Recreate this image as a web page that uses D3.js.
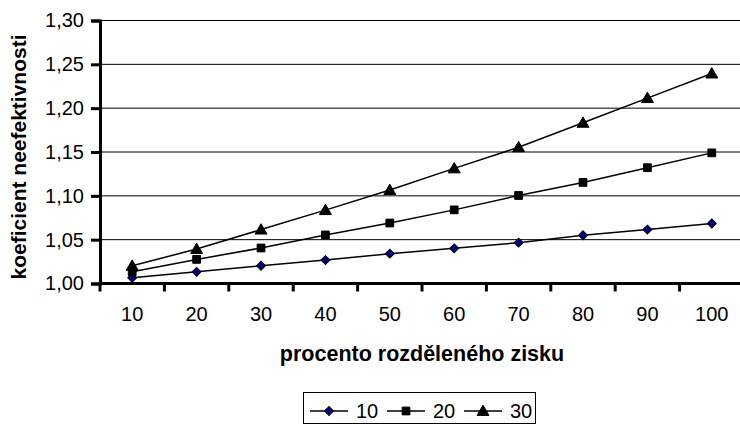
<!DOCTYPE html>
<html>
<head>
<meta charset="utf-8">
<script src="https://cdn.jsdelivr.net/npm/d3@7"></script>
<style>
  html, body { margin: 0; padding: 0; background: #fff; }
  svg { display: block; }
  text { font-family: "Liberation Sans", Arial, sans-serif; fill: #000; }
</style>
</head>
<body>
<svg id="chart" width="740" height="424"></svg>
<script>
const categories = ["10", "20", "30", "40", "50", "60", "70", "80", "90", "100"];
const series10 = [1.0066, 1.0133, 1.0202, 1.0267, 1.0340, 1.0401, 1.0466, 1.0550, 1.0615, 1.0684];
const series20 = [1.0135, 1.0275, 1.0405, 1.0554, 1.0690, 1.0840, 1.1004, 1.1153, 1.1321, 1.1490];
const series30 = [1.0202, 1.0393, 1.0615, 1.0837, 1.1066, 1.1313, 1.1554, 1.1833, 1.2115, 1.2395];
const seriesNames = ["10", "20", "30"];
const yTicks = [1.00, 1.05, 1.10, 1.15, 1.20, 1.25, 1.30];
const xTitle = "procento rozděleného zisku";
const yTitle = "koeficient neefektivnosti";

const svg = d3.select("#chart");
const pLeft = 100, pRight = 744, pTop = 20.5, pBottom = 283.5;

const x = d3.scaleBand().domain(categories).range([pLeft, pRight]).padding(0);
const y = d3.scaleLinear().domain([1.0, 1.3]).range([pBottom, pTop]);
const fmt = v => d3.format(".2f")(v).replace(".", ",");

// gridlines
svg.append("g").selectAll("line").data(yTicks.filter(t => t > 1.0)).join("line")
  .attr("x1", pLeft).attr("x2", pRight)
  .attr("y1", d => y(d)).attr("y2", d => y(d))
  .attr("stroke", "#000").attr("stroke-width", 1);

// y axis
const yAxis = d3.axisLeft(y).tickValues(yTicks).tickFormat(fmt).tickSize(9).tickPadding(7);
const gy = svg.append("g").attr("transform", `translate(${pLeft},0)`).call(yAxis);
gy.select(".domain").attr("stroke", "#000").attr("stroke-width", 3);
gy.selectAll(".tick line").attr("stroke", "#000").attr("stroke-width", 3);
gy.selectAll(".tick text").attr("font-size", "20px")
  .attr("font-family", "Liberation Sans, Arial, sans-serif").attr("fill", "#000");

// x axis (ticks at category boundaries)
const boundaries = d3.range(categories.length + 1).map(i => pLeft + i * x.bandwidth());
svg.append("line").attr("x1", pLeft - 1.5).attr("x2", pRight).attr("y1", pBottom).attr("y2", pBottom)
  .attr("stroke", "#000").attr("stroke-width", 3);
svg.append("g").selectAll("line").data(boundaries).join("line")
  .attr("x1", d => d).attr("x2", d => d).attr("y1", pBottom).attr("y2", pBottom + 8)
  .attr("stroke", "#000").attr("stroke-width", 3);
svg.append("g").selectAll("text").data(categories).join("text")
  .attr("x", d => x(d) + x.bandwidth() / 2).attr("y", 321)
  .attr("text-anchor", "middle").attr("font-size", "20px").text(d => d);

// axis titles
svg.append("text").attr("x", (pLeft + pRight) / 2).attr("y", 361)
  .attr("text-anchor", "middle").attr("font-size", "21.5px").attr("font-weight", "bold").text(xTitle);
svg.append("text").attr("transform", "translate(26,157) rotate(-90)")
  .attr("text-anchor", "middle").attr("font-size", "21px").attr("font-weight", "bold").text(yTitle);

// markers
const markerDefs = [
  { type: d3.symbolSquare, size: 40, fill: "#000080", rot: 45, dy: 0 },
  { type: d3.symbolSquare, size: 60, fill: "#000", rot: 0, dy: 0 },
  { type: d3.symbolTriangle, size: 62, fill: "#000", rot: 0, dy: 1 }
];
const allSeries = [series10, series20, series30];
const line = d3.line().x((d, i) => x(categories[i]) + x.bandwidth() / 2).y(d => y(d));

allSeries.forEach((s, si) => {
  svg.append("path").datum(s).attr("d", line)
    .attr("fill", "none").attr("stroke", "#000").attr("stroke-width", 1.5);
});
allSeries.forEach((s, si) => {
  const m = markerDefs[si];
  svg.append("g").selectAll("path").data(s).join("path")
    .attr("transform", (d, i) => `translate(${x(categories[i]) + x.bandwidth() / 2},${y(d) + m.dy}) rotate(${m.rot})`)
    .attr("d", d3.symbol().type(m.type).size(m.size))
    .attr("fill", m.fill).attr("stroke", "#000").attr("stroke-width", 1);
});

// legend
const lg = svg.append("g");
lg.append("rect").attr("x", 303.5).attr("y", 392.5).attr("width", 232).attr("height", 31)
  .attr("fill", "#fff").attr("stroke", "#000").attr("stroke-width", 1);
const legendX = [310, 387, 464];
seriesNames.forEach((name, i) => {
  const lx = legendX[i];
  lg.append("line").attr("x1", lx).attr("x2", lx + 38).attr("y1", 411).attr("y2", 411)
    .attr("stroke", "#000").attr("stroke-width", 1.5);
  const m = markerDefs[i];
  lg.append("path").attr("transform", `translate(${lx + 19},${411 + m.dy}) rotate(${m.rot})`)
    .attr("d", d3.symbol().type(m.type).size(m.size))
    .attr("fill", m.fill).attr("stroke", "#000").attr("stroke-width", 1);
  lg.append("text").attr("x", lx + 46).attr("y", 418).attr("font-size", "20px").text(name);
});
</script>
</body>
</html>
